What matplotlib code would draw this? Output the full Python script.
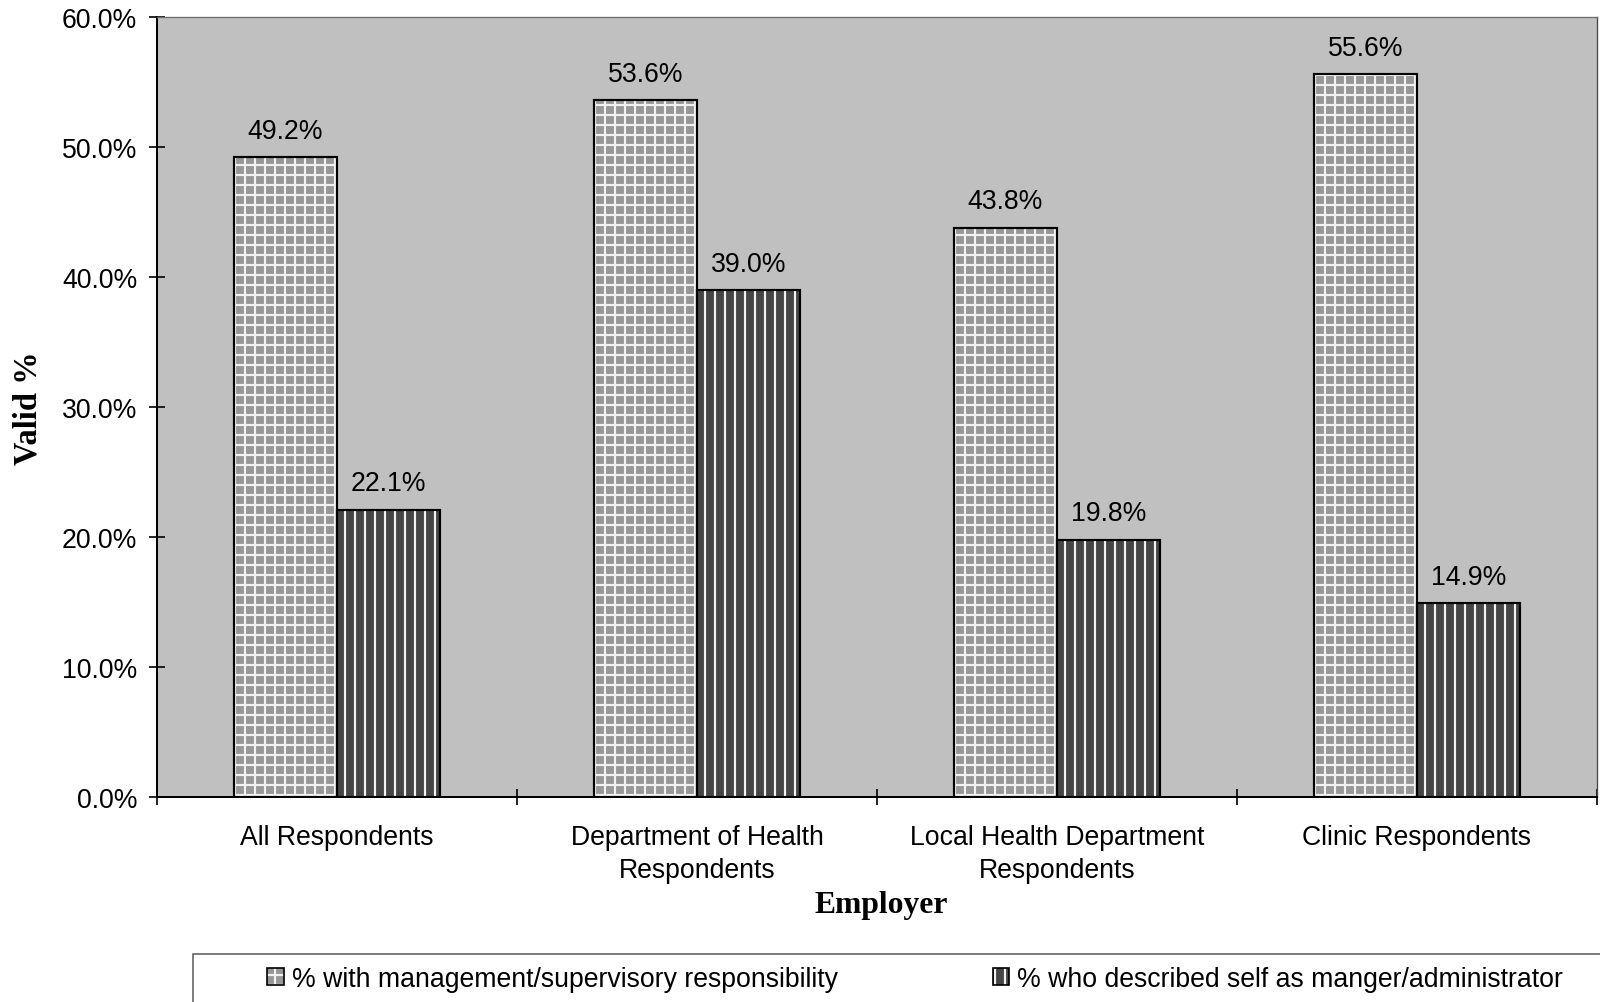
import numpy as np
import matplotlib.pyplot as plt
from matplotlib.patches import Patch, Rectangle

plt.rcParams['font.family'] = ['Liberation Sans', 'DejaVu Sans']
plt.rcParams['hatch.linewidth'] = 1.3

categories = ['All Respondents', 'Department of Health\nRespondents',
              'Local Health Department\nRespondents', 'Clinic Respondents']
mgmt_resp = [49.2, 53.6, 43.8, 55.6]
self_mgr = [22.1, 39.0, 19.8, 14.9]
series_names = ['% with management/supervisory responsibility',
                '% who described self as manger/administrator']

fig = plt.figure(figsize=(1600 / 120, 1003 / 120), dpi=120)
ax = fig.add_axes([157 / 1600, 1 - 798 / 1003, 1440 / 1600, 780 / 1003])
ax.set_facecolor('#c0c0c0')

x = np.arange(len(categories))
w = 0.286

# (fill, hatch) for the two series; hatch drawn white, outline drawn on top in black
styles = [('#979797', '++'), ('#454545', '||')]
handles = []
for vals, off, (fc, hatch) in zip([mgmt_resp, self_mgr], [-w / 2, w / 2], styles):
    ax.bar(x + off, vals, w, color=fc, hatch=hatch, edgecolor='#f2f2f2', linewidth=0, zorder=2)
    bars = ax.bar(x + off, vals, w, fill=False, edgecolor='black', linewidth=1.3, zorder=3)
    for b, v in zip(bars, vals):
        ax.annotate(f'{v:.1f}%', (b.get_x() + b.get_width() / 2, v), xytext=(0, 8),
                    textcoords='offset points', ha='center', va='bottom', fontsize=16)
    handles.append((Patch(facecolor=fc, hatch=hatch, edgecolor='#f2f2f2', linewidth=0),
                    Patch(fill=False, edgecolor='black', linewidth=1.0)))

ax.set_xlim(-0.5, len(categories) - 0.5)
ax.set_ylim(0, 60)
ax.set_yticks(np.arange(0, 61, 10))
ax.set_yticklabels([f'{t:.1f}%' for t in np.arange(0, 61, 10)], fontsize=16)
ax.tick_params(axis='y', direction='inout', length=9.6, width=1, pad=7)

ax.set_xticks(x)
ax.set_xticklabels(categories, fontsize=16, linespacing=1.35)
ax.tick_params(axis='x', which='major', length=0, pad=16)
ax.set_xticks(np.arange(-0.5, len(categories)), minor=True)
ax.tick_params(axis='x', which='minor', direction='inout', length=9.6, width=1)

for side in ['left', 'bottom']:
    ax.spines[side].set_color('black')
    ax.spines[side].set_linewidth(1.2)
ax.spines['top'].set_color('#6e6e6e')
ax.spines['right'].set_color('#4a4a4a')

ax.set_ylabel('Valid %', fontsize=19.5, fontweight='bold', family='Liberation Serif', va='center')
ax.yaxis.set_label_coords(-129 / 1440, 0.5)
ax.set_xlabel('Employer', fontsize=19, fontweight='bold', family='Liberation Serif', va='center')
ax.xaxis.set_label_coords(0.5 + 4 / 1440, -108 / 780)

# legend box runs off the right and bottom edges
fig.add_artist(Rectangle((193 / 1600, -0.05), 0.9, 1 - 955 / 1003 + 0.05,
                         transform=fig.transFigure, fill=False, edgecolor='#555555',
                         linewidth=0.9, clip_on=False))
fig.legend(handles, series_names, loc='center', bbox_to_anchor=(0.572, 1 - 980 / 1003),
           ncol=2, frameon=False, fontsize=16, handlelength=0.62, handleheight=0.62,
           handletextpad=0.3, columnspacing=5.8)

fig.savefig('out.png', dpi=120)
